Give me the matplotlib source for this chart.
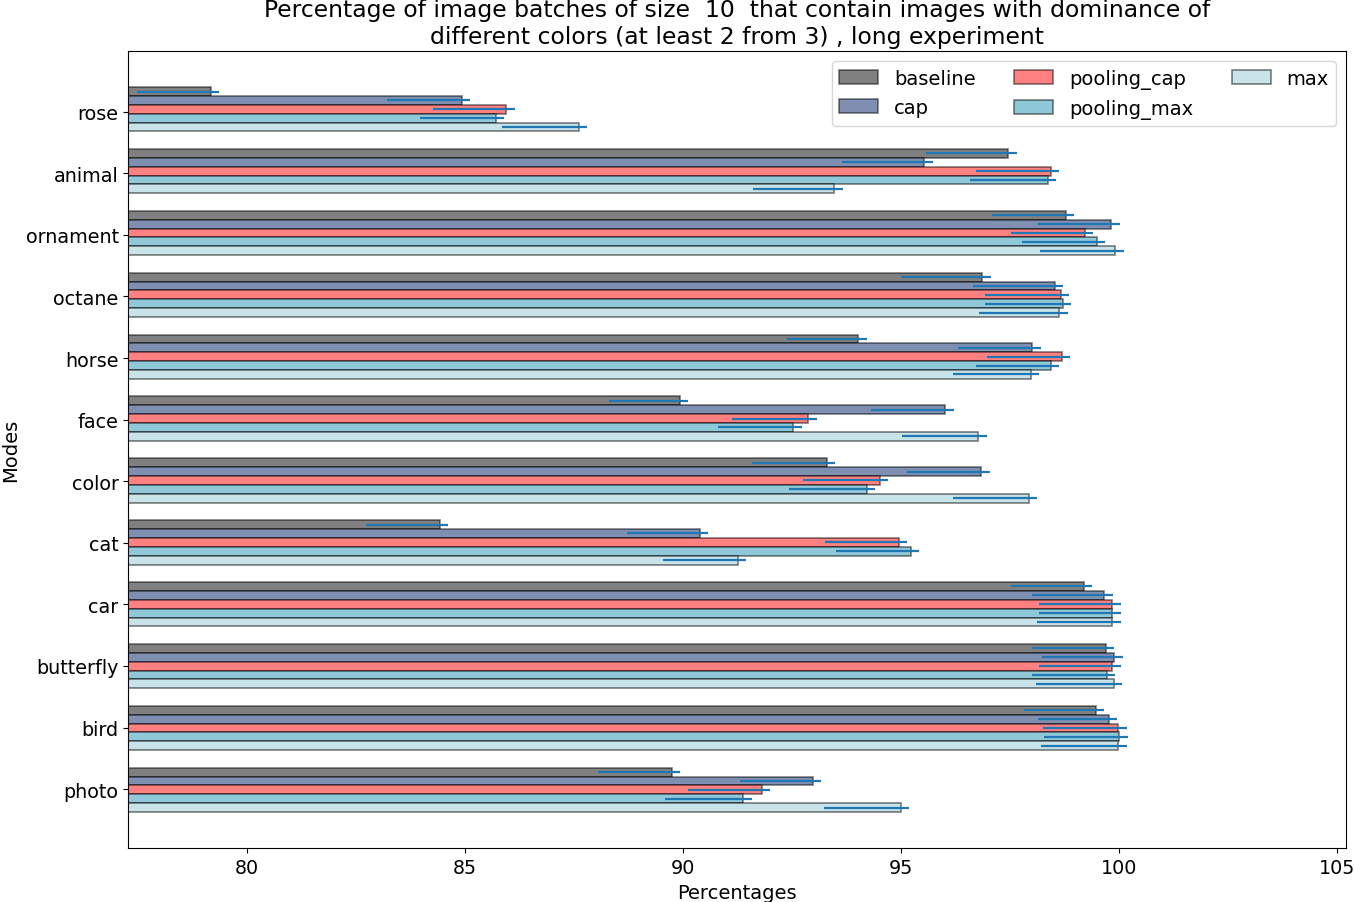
import numpy as np
import matplotlib
matplotlib.use("Agg")
import matplotlib.pyplot as plt

# categories listed bottom -> top
modes = ["photo", "bird", "butterfly", "car", "cat", "color",
         "face", "horse", "octane", "ornament", "animal", "rose"]

series_names = ["baseline", "cap", "pooling_cap", "pooling_max", "max"]

baseline = [89.75, 99.46, 99.70, 99.19, 84.43, 93.29, 89.93, 94.02, 96.86, 98.77, 97.46, 79.17]
cap = [92.97, 99.77, 99.89, 99.66, 90.39, 96.84, 96.01, 98.01, 98.52, 99.82, 95.53, 84.92]
pooling_cap = [91.81, 99.98, 99.84, 99.84, 94.94, 94.51, 92.87, 98.68, 98.66, 99.21, 98.43, 85.95]
pooling_max = [91.38, 100.0, 99.72, 99.84, 95.22, 94.21, 92.53, 98.43, 98.70, 99.48, 98.36, 85.70]
max_ = [94.99, 99.98, 99.87, 99.84, 91.26, 97.92, 96.77, 97.97, 98.63, 99.91, 93.47, 87.61]

# lower / upper error extents
err_baseline = [1.70, 1.64, 1.69, 1.67, 1.70, 1.71, 1.63, 1.64, 1.87, 1.68, 1.89, 1.69]
err_cap = [1.66, 1.64, 1.66, 1.66, 1.67, 1.71, 1.71, 1.71, 1.87, 1.69, 1.89, 1.71]
err_pooling_cap = [1.70, 1.73, 1.68, 1.68, 1.68, 1.76, 1.75, 1.71, 1.73, 1.69, 1.71, 1.68]
err_pooling_max = [1.80, 1.73, 1.72, 1.68, 1.71, 1.78, 1.73, 1.71, 1.77, 1.70, 1.78, 1.73]
err_max = [1.76, 1.78, 1.78, 1.73, 1.73, 1.73, 1.75, 1.78, 1.84, 1.73, 1.87, 1.76]
err_upper = 0.19

values = [baseline, cap, pooling_cap, pooling_max, max_]
errors = [err_baseline, err_cap, err_pooling_cap, err_pooling_max, err_max]
colors = ["#808080", "#7f8fb2", "#ff8080", "#8fc8d9", "#c8e3ea"]

fig = plt.figure(figsize=(13.54, 9.03), dpi=100)
ax = fig.add_axes([0.0948, 0.0595, 0.8993, 0.8826])

h = 0.144
y = np.arange(len(modes))
# group centres drift slightly from the tick positions in the original
centres = y * 1.0045 - 0.011
for i, (name, vals, errs, col) in enumerate(zip(series_names, values, errors, colors)):
    pos = centres + (2 - i) * h
    ax.barh(pos, vals, height=h, color=col, edgecolor=(0, 0, 0, 0.5),
            linewidth=1.2, label=name)
    ax.errorbar(vals, pos, xerr=[errs, [err_upper] * len(errs)], fmt="none",
                ecolor="#1f77b4", elinewidth=1.6, capsize=0)

ax.set_yticks(y)
ax.set_yticklabels(modes)
ax.set_xlim(77.28, 105.2)
ax.set_ylim(-0.96, 11.98)
ax.tick_params(labelsize=13.8)

ax.set_xlabel("Percentages", fontsize=14)
ax.set_ylabel("Modes", fontsize=14)
ax.set_title("Percentage of image batches of size  10  that contain images with dominance of\n"
             "different colors (at least 2 from 3) , long experiment", fontsize=16.9)
ax.legend(loc="upper right", ncol=3, fontsize=14)

fig.savefig("out.png", dpi=100)
